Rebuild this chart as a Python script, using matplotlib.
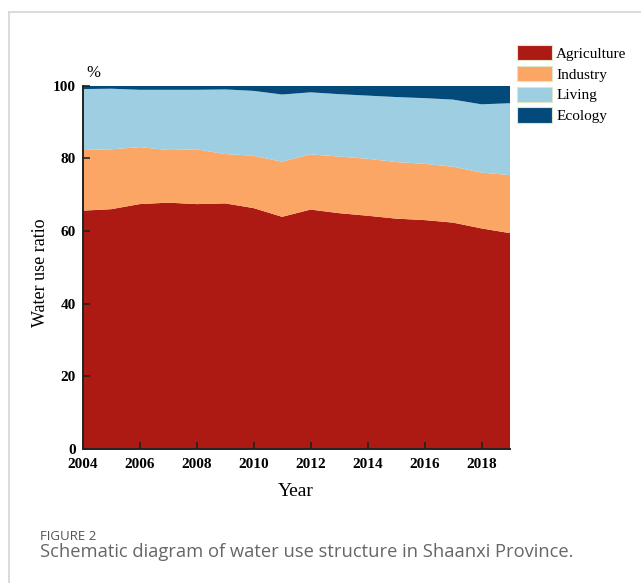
import matplotlib
matplotlib.use("Agg")
import matplotlib.pyplot as plt
from matplotlib.patches import Patch
from matplotlib.lines import Line2D

years = list(range(2004, 2020))

# Share of total water use by sector (%)
agriculture = [65.6, 66.0, 67.4, 67.8, 67.4, 67.6, 66.3, 63.9,
               65.9, 64.9, 64.2, 63.4, 63.0, 62.3, 60.7, 59.4]
industry = [16.7, 16.5, 15.7, 14.5, 15.1, 13.6, 14.4, 15.2,
            15.2, 15.6, 15.7, 15.6, 15.5, 15.4, 15.4, 16.0]
living = [16.8, 16.7, 15.8, 16.6, 16.4, 17.8, 17.9, 18.5,
          17.1, 17.2, 17.4, 17.9, 18.1, 18.5, 18.8, 19.8]
ecology = [0.9, 0.8, 1.1, 1.1, 1.1, 1.0, 1.4, 2.4,
           1.8, 2.3, 2.7, 3.1, 3.4, 3.8, 5.1, 4.8]

series_names = ["Agriculture", "Industry", "Living", "Ecology"]
series_colors = ["#AD1913", "#FCA666", "#9ECEE2", "#03497A"]

xticks = [2004, 2006, 2008, 2010, 2012, 2014, 2016, 2018]
yticks = [0, 20, 40, 60, 80, 100]

serif = ["Liberation Serif", "DejaVu Serif"]
W, H = 641, 583


def fx(px):
    return px / W


def fy(py):
    return 1 - py / H


fig = plt.figure(figsize=(W / 100, H / 100), dpi=100)

# card frame (top and left edges)
fig.add_artist(Line2D([fx(9), fx(9)], [0, fy(12)],
                      transform=fig.transFigure, color="#d4d4d4", lw=1.2))
fig.add_artist(Line2D([fx(9), 1], [fy(12), fy(12)],
                      transform=fig.transFigure, color="#d4d4d4", lw=1.2))

ax = fig.add_axes([fx(82.7), fy(448.7), (510 - 82.7) / W, (448.7 - 85.8) / H])

ax.stackplot(years, agriculture, industry, living, ecology,
             colors=series_colors, linewidth=0)

ax.set_xlim(2004, 2019)
ax.set_ylim(0, 100)
ax.set_xticks(xticks)
ax.set_yticks(yticks)
ax.set_xticklabels([str(t) for t in xticks], fontfamily=serif, fontweight="bold", fontsize=11)
ax.set_yticklabels([str(t) for t in yticks], fontfamily=serif, fontweight="bold", fontsize=11)
ax.tick_params(axis="both", direction="in", length=5, width=1.2, color="#222222")
ax.tick_params(axis="x", pad=7)
ax.tick_params(axis="y", pad=5)

for side in ("top", "right"):
    ax.spines[side].set_visible(False)
for side in ("left", "bottom"):
    ax.spines[side].set_linewidth(1.4)
    ax.spines[side].set_color("#222222")

fig.text(fx(296), fy(491.5), "Year", fontfamily=serif, fontsize=14,
         ha="center", va="center")
fig.text(fx(40.5), fy(272.5), "Water use ratio", fontfamily=serif, fontsize=13,
         rotation=90, ha="center", va="center")
fig.text(fx(93.5), fy(73), "%", fontfamily=serif, fontsize=12,
         ha="center", va="center")

handles = [Patch(facecolor=c, edgecolor="#dfe6c8", linewidth=0.8) for c in series_colors]
fig.legend(handles, series_names, loc="upper left",
           bbox_to_anchor=(fx(516.5), fy(45)), bbox_transform=fig.transFigure,
           frameon=False, borderpad=0, borderaxespad=0,
           prop={"family": serif, "size": 11},
           handlelength=2.3, handleheight=1.15, handletextpad=0.3, labelspacing=0.33)

fig.text(fx(40), fy(537), "FIGURE 2", fontfamily="Open Sans",
         fontsize=9.5, color="#555555", va="center", ha="left")
fig.text(fx(40), fy(552), "Schematic diagram of water use structure in Shaanxi Province.",
         fontfamily="Open Sans", fontsize=13.2, color="#666666", va="center", ha="left")

fig.savefig("out.png", dpi=100)
